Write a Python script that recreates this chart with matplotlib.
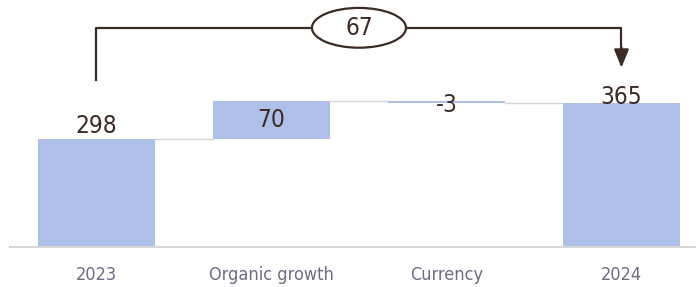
import matplotlib.pyplot as plt
from matplotlib.patches import Ellipse

categories = ["2023", "Organic growth", "Currency", "2024"]
values = [298, 70, -3, 365]
is_total = [True, False, False, True]
labels = ["298", "70", "-3", "365"]
change_label = "67"

BAR = "#aec0e8"
DARK = "#3b2b25"
TICK = "#6e6b82"

plt.rcParams['font.family'] = ['DejaVu Sans']
plt.rcParams['font.stretch'] = 'condensed'

fig = plt.figure(figsize=(6.96, 2.87), dpi=100)
ax = fig.add_axes([10 / 696, 40 / 287, 686 / 696, 247 / 287])

# waterfall bottoms / tops
bottoms, tops = [], []
running = 0
for v, tot in zip(values, is_total):
    if tot:
        b, t = 100, v
        running = v
    else:
        b, t = running, running + v
        running += v
    bottoms.append(min(b, t))
    tops.append(max(b, t))

x = list(range(len(categories)))
ax.bar(x, [t - b for b, t in zip(bottoms, tops)], bottom=bottoms,
       width=0.67, color=BAR, zorder=2)

# connectors
levels = [values[0]]
for v in values[1:3]:
    levels.append(levels[-1] + v)
for i in range(3):
    ax.plot([i + 0.335, i + 1 - 0.335], [levels[i], levels[i]],
            color="#d6d6d6", lw=1, zorder=1)

# value labels
VFS = 17.5
ax.text(0, 322, labels[0], ha="center", va="center", fontsize=VFS, color=DARK)
ax.text(1, (bottoms[1] + tops[1]) / 2, labels[1], ha="center", va="center", fontsize=VFS, color=DARK)
ax.text(2, 361, labels[2], ha="center", va="center", fontsize=VFS, color=DARK)
ax.text(3, 376, labels[3], ha="center", va="center", fontsize=VFS, color=DARK)

# bracket with change
ax.plot([0, 0, 1.5 - 0.27], [406, 502, 502], color=DARK, lw=1.6, clip_on=False)
ax.plot([1.5 + 0.27, 3, 3], [502, 502, 462], color=DARK, lw=1.6, clip_on=False)
ax.annotate("", xy=(3, 429), xytext=(3, 466),
            arrowprops=dict(arrowstyle="-|>,head_width=0.45,head_length=1.1",
                            color=DARK, lw=1.6, shrinkA=0, shrinkB=0),
            annotation_clip=False)
ax.add_patch(Ellipse((1.5, 502), 0.537, 73, facecolor="white", edgecolor=DARK,
                     lw=1.6, clip_on=False, zorder=3))
ax.text(1.5, 502, change_label, ha="center", va="center", fontsize=VFS,
        color=DARK, zorder=4)

ax.set_xlim(-0.494, 3.426)
ax.set_ylim(100, 553)
ax.set_xticks(x)
ax.set_xticklabels(categories, fontsize=13, color=TICK)
ax.tick_params(axis="x", length=0, pad=14)
ax.set_yticks([])
for s in ["top", "left", "right"]:
    ax.spines[s].set_visible(False)
ax.spines["bottom"].set_color("#d6d6d6")
ax.spines["bottom"].set_linewidth(1.5)

fig.savefig("out.png", dpi=100)
